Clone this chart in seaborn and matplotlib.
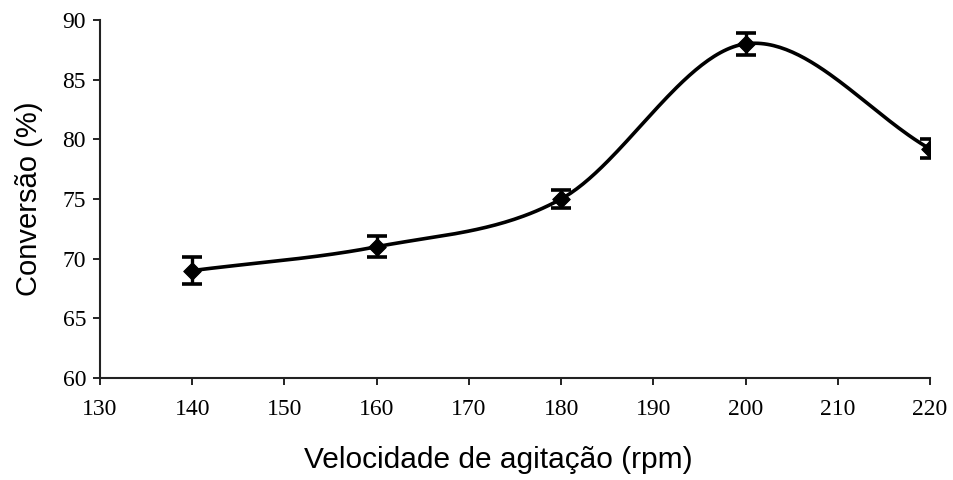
import numpy as np
import pandas as pd
import matplotlib
matplotlib.use("Agg")
import matplotlib.pyplot as plt
import seaborn as sns

# Stirring speed (rpm) vs conversion (%)
rpm = [140, 160, 180, 200, 220]
conversao = [69.0, 71.0, 75.0, 88.0, 79.2]
erro = [1.1, 0.9, 0.75, 0.9, 0.8]

x_ticks = [130, 140, 150, 160, 170, 180, 190, 200, 210, 220]
y_ticks = [60, 65, 70, 75, 80, 85, 90]


def catmull_rom(xs, ys, n=60):
    """Smooth curve through the points (Catmull-Rom, like a spreadsheet smoothed line)."""
    px = np.asarray(xs, float)
    py = np.asarray(ys, float)
    px = np.concatenate([[2 * px[0] - px[1]], px, [2 * px[-1] - px[-2]]])
    py = np.concatenate([[2 * py[0] - py[1]], py, [2 * py[-1] - py[-2]]])
    out_x, out_y = [], []
    t = np.linspace(0, 1, n)
    for i in range(1, len(px) - 2):
        for arr, out in ((px, out_x), (py, out_y)):
            p0, p1, p2, p3 = arr[i - 1], arr[i], arr[i + 1], arr[i + 2]
            seg = 0.5 * ((2 * p1) + (-p0 + p2) * t + (2 * p0 - 5 * p1 + 4 * p2 - p3) * t ** 2
                         + (-p0 + 3 * p1 - 3 * p2 + p3) * t ** 3)
            out.extend(seg.tolist())
    return np.array(out_x), np.array(out_y)


sns.set_theme(style="ticks")
plt.rcParams["font.family"] = ["Liberation Serif", "DejaVu Serif"]

fig = plt.figure(figsize=(9.54, 4.8), dpi=100)
ax = fig.add_axes([100 / 954, 1 - 378 / 480, 830 / 954, 358 / 480])

cx, cy = catmull_rom(rpm, conversao)
curve = pd.DataFrame({"rpm": cx, "conv": cy})
sns.lineplot(data=curve, x="rpm", y="conv", sort=False, color="black", linewidth=2.6, ax=ax)

ax.errorbar(rpm, conversao, yerr=erro, fmt="none", ecolor="black", elinewidth=2.4,
            capsize=7, capthick=2.6, zorder=3)
pts = pd.DataFrame({"rpm": rpm, "conv": conversao})
sns.scatterplot(data=pts, x="rpm", y="conv", marker="D", s=80, color="black",
                edgecolor="black", zorder=4, ax=ax)

ax.set_xlim(130, 220)
ax.set_ylim(60, 90)
ax.set_xticks(x_ticks)
ax.set_yticks(y_ticks)
ax.tick_params(axis="both", direction="out", length=5, width=1.4, color="#222222",
               labelsize=17, labelcolor="black")
ax.tick_params(axis="y", pad=5)
ax.tick_params(axis="x", pad=10)

for side in ("top", "right"):
    ax.spines[side].set_visible(False)
for side in ("left", "bottom"):
    ax.spines[side].set_linewidth(1.5)
    ax.spines[side].set_color("#222222")

ax.set_xlabel("Velocidade de agitação (rpm)", fontsize=21.5, family="Liberation Sans",
              color="black", labelpad=18)
ax.xaxis.set_label_coords(0.48, -0.19)
ax.set_ylabel("Conversão (%)", fontsize=21, family="Liberation Sans", color="black",
              labelpad=14)

fig.savefig("out.png", dpi=100)
